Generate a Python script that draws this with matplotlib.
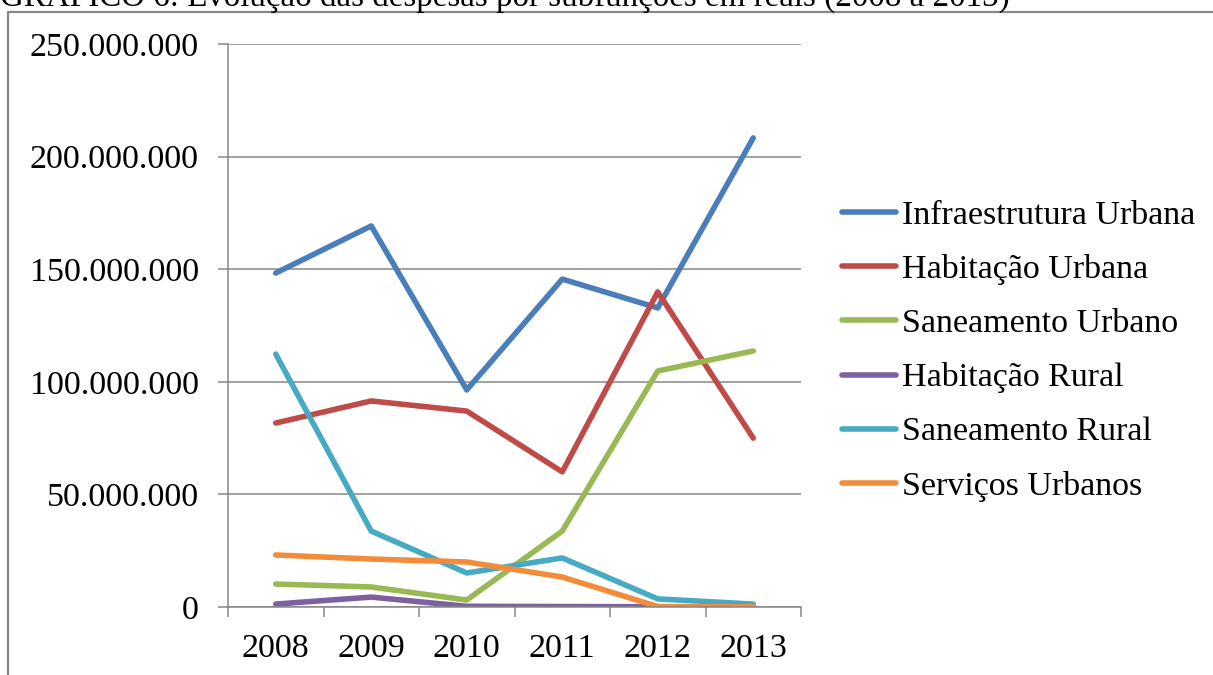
import matplotlib
matplotlib.use("Agg")
import matplotlib.pyplot as plt
from matplotlib.lines import Line2D
from matplotlib.ticker import FuncFormatter, FixedLocator

plt.rcParams['font.family'] = ['Liberation Serif', 'DejaVu Serif']

anos = ['2008', '2009', '2010', '2011', '2012', '2013']

infraestrutura_urbana = [148.3e6, 169.2e6, 96.4e6, 145.6e6, 132.8e6, 208.3e6]
habitacao_urbana = [81.7e6, 91.5e6, 87.0e6, 60.0e6, 139.9e6, 75.0e6]
saneamento_urbano = [10.2e6, 8.9e6, 3.1e6, 33.7e6, 104.8e6, 113.7e6]
habitacao_rural = [1.3e6, 4.4e6, 0.3e6, 0.2e6, 0.1e6, 0.1e6]
saneamento_rural = [112.3e6, 33.7e6, 15.1e6, 21.8e6, 3.6e6, 1.3e6]
servicos_urbanos = [23.1e6, 21.3e6, 20.0e6, 13.3e6, 0.2e6, 0.1e6]

series = [
    ('Infraestrutura Urbana', infraestrutura_urbana, '#4A7EBB'),
    ('Habitação Urbana', habitacao_urbana, '#BE4B48'),
    ('Saneamento Urbano', saneamento_urbano, '#98B954'),
    ('Habitação Rural', habitacao_rural, '#7D60A0'),
    ('Saneamento Rural', saneamento_rural, '#46AAC5'),
    ('Serviços Urbanos', servicos_urbanos, '#F38C3A'),
]

cinza = '#878787'
lw = 4.0

fig = plt.figure(figsize=(12.13, 6.75), dpi=100)
ax = fig.add_axes([228 / 1213, 68 / 675, 573 / 1213, 563 / 675])

x = list(range(len(anos)))
for nome, valores, cor in series:
    ax.plot(x, valores, color=cor, lw=lw, label=nome,
            solid_capstyle='round', solid_joinstyle='round')

ax.set_xlim(-0.5, len(anos) - 0.5)
ax.set_ylim(0, 250e6)
ax.set_yticks([0, 50e6, 100e6, 150e6, 200e6, 250e6])
ax.yaxis.set_major_formatter(
    FuncFormatter(lambda v, p: f'{int(v):,}'.replace(',', '.')))
ax.set_xticks(x)
ax.set_xticklabels(anos)
ax.xaxis.set_minor_locator(FixedLocator([i - 0.5 for i in range(len(anos) + 1)]))

ax.grid(axis='y', color=cinza, lw=1.1)
ax.set_axisbelow(True)
for s in ['top', 'right']:
    ax.spines[s].set_visible(False)
for s in ['left', 'bottom']:
    ax.spines[s].set_color(cinza)
    ax.spines[s].set_linewidth(1.1)

ax.tick_params(axis='y', length=7, width=1.1, color=cinza, pad=14, labelsize=24.5)
ax.tick_params(axis='x', which='major', length=0, pad=19, labelsize=24.5)
ax.tick_params(axis='x', which='minor', length=7, width=1.1, color=cinza)

handles = [Line2D([], [], color=c, lw=lw, solid_capstyle='round') for _, _, c in series]
ax.legend(handles, [n for n, _, _ in series], loc='center left',
          bbox_to_anchor=(842 / 1213, 1 - 351 / 675), bbox_transform=fig.transFigure,
          frameon=False, fontsize=24.5, handlelength=1.6, handletextpad=0.15,
          labelspacing=0.68, borderaxespad=0, borderpad=0)

# moldura do gráfico e título cortado no topo, como no original
fig.add_artist(Line2D([8 / 1213, 8 / 1213, 1.0], [0.0, 1 - 12 / 675, 1 - 12 / 675],
                      transform=fig.transFigure, color=cinza, lw=1.6))
fig.text(0, 1 - 6 / 675,
         'GRÁFICO 6: Evolução das despesas por subfunções em reais (2008 a 2013)',
         fontsize=23.8, ha='left', va='baseline')

fig.savefig('out.png', dpi=100)
